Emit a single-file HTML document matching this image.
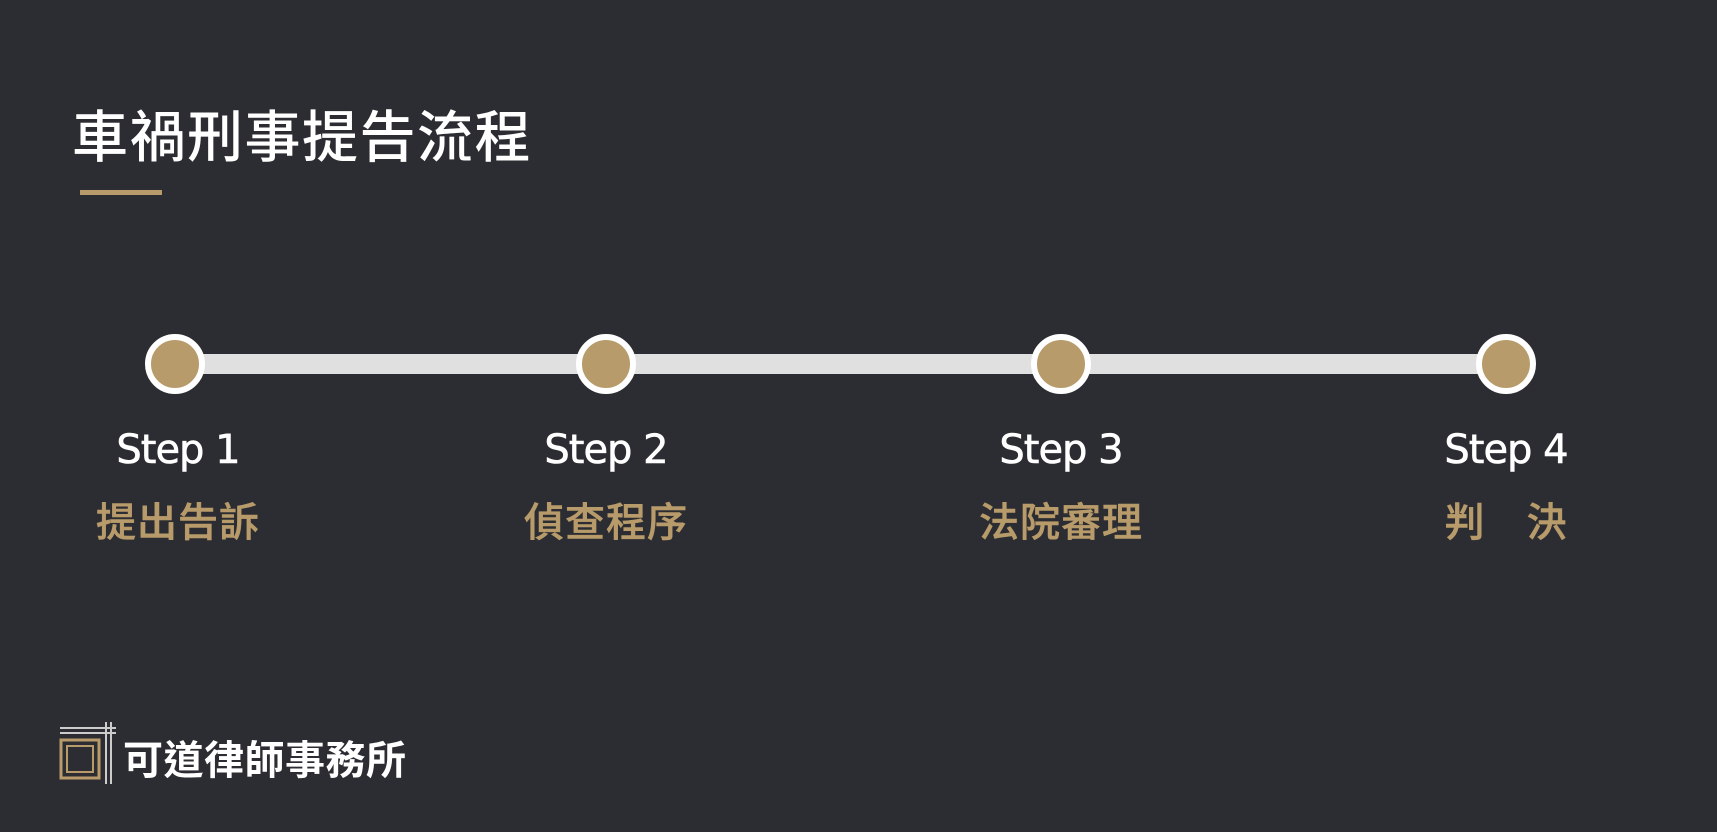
<!DOCTYPE html>
<html><head><meta charset="utf-8"><style>
body{margin:0;width:1717px;height:832px;background:#2c2d32;overflow:hidden;position:relative;font-family:"Liberation Sans","Noto Sans CJK TC",sans-serif}
.t{position:absolute;left:72px;top:93px;font-size:56px;color:#fff;font-weight:500;letter-spacing:1.5px;font-family:"Noto Sans CJK TC",sans-serif}
.ul{position:absolute;left:80px;top:190px;width:82px;height:5px;background:#b89b6a}
.bar{position:absolute;left:175px;top:354px;width:1331px;height:20px;background:#dfe0df}
.c{position:absolute;top:334px;width:48px;height:48px;border:6px solid #fff;border-radius:50%;background:#b89b6a;margin-left:-30px}
.s{position:absolute;top:427px;width:300px;margin-left:-150px;text-align:center;color:#fff;font-size:40px;font-family:"DejaVu Sans","Liberation Sans",sans-serif;letter-spacing:-1px;-webkit-text-stroke:0.6px #fff}
.z{position:absolute;top:490px;width:300px;margin-left:-150px;text-align:center;color:#b89b6a;font-size:40px;font-weight:500;font-family:"Noto Sans CJK TC",sans-serif;letter-spacing:1px;-webkit-text-stroke:0.5px #b89b6a}
.lg{position:absolute;left:123px;top:728px;color:#fff;font-size:40px;font-weight:bold;font-family:"Noto Sans CJK TC",sans-serif;letter-spacing:0.5px}
</style></head><body>
<div class="t">車禍刑事提告流程</div>
<div class="ul"></div>
<div class="bar"></div>
<div class="c" style="left:175px"></div><div class="c" style="left:606px"></div><div class="c" style="left:1061px"></div><div class="c" style="left:1506px"></div>
<div class="s" style="left:178px">Step 1</div><div class="s" style="left:606px">Step 2</div><div class="s" style="left:1061px">Step 3</div><div class="s" style="left:1506px">Step 4</div>
<div class="z" style="left:178px">提出告訴</div><div class="z" style="left:606px">偵查程序</div><div class="z" style="left:1061px">法院審理</div><div class="z" style="left:1506px">判　決</div>
<svg style="position:absolute;left:58px;top:722px" width="60" height="64">
<line x1="2" y1="6" x2="58" y2="6" stroke="#ccc" stroke-width="2"/><line x1="2" y1="11" x2="58" y2="11" stroke="#ccc" stroke-width="2"/>
<line x1="48" y1="0" x2="48" y2="62" stroke="#ccc" stroke-width="2"/><line x1="53" y1="0" x2="53" y2="62" stroke="#ccc" stroke-width="2"/>
<rect x="3" y="18" width="38" height="38" fill="none" stroke="#b89b6a" stroke-width="3"/><rect x="9" y="24" width="26" height="26" fill="none" stroke="#b89b6a" stroke-width="2"/>
</svg>
<div class="lg">可道律師事務所</div>
</body></html>
